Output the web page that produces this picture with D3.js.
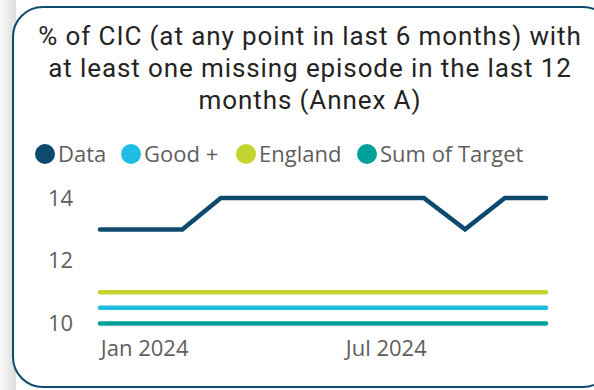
<!DOCTYPE html>
<html>
<head>
<meta charset="utf-8">
<script src="https://cdn.jsdelivr.net/npm/d3@7"></script>
<style>
  body { margin: 0; background: #fff; }
  svg { display: block; }
</style>
</head>
<body>
<div id="chart"></div>
<script>
// monthly values, Dec 2023 .. Nov 2024
var months = ["2023-12-01","2024-01-01","2024-02-01","2024-03-01","2024-04-01","2024-05-01",
              "2024-06-01","2024-07-01","2024-08-01","2024-09-01","2024-10-01","2024-11-01"];
var dataVals = [13, 13, 13, 14, 14, 14, 14, 14, 14, 13, 14, 14];
var goodVals = [10.5, 10.5, 10.5, 10.5, 10.5, 10.5, 10.5, 10.5, 10.5, 10.5, 10.5, 10.5];
var englandVals = [11, 11, 11, 11, 11, 11, 11, 11, 11, 11, 11, 11];
var targetVals = [10, 10, 10, 10, 10, 10, 10, 10, 10, 10, 10, 10];
var yTicks = [10, 12, 14];
var xTicks = ["2024-01-01", "2024-07-01"];
var titleLines = ["% of CIC (at any point in last 6 months) with",
                  "at least one missing episode in the last 12",
                  "months (Annex A)"];

var seriesNames = ["Data", "Good +", "England", "Sum of Target"];
var seriesColors = ["#0d4a6e", "#1fbde2", "#c5d52f", "#00a09a"];
var seriesVals = [dataVals, goodVals, englandVals, targetVals];

var W = 594, H = 390;
var parse = d3.timeParse("%Y-%m-%d");
var fmt = d3.timeFormat("%b %Y");
var labelFont = "'Open Sans', sans-serif";

var svg = d3.select("#chart").append("svg")
  .attr("width", W).attr("height", H);

// left shadow
var defs = svg.append("defs");
var grad = defs.append("linearGradient").attr("id", "shadow")
  .attr("x1", 0).attr("x2", 1);
grad.append("stop").attr("offset", "0%").attr("stop-color", "#fafafa");
grad.append("stop").attr("offset", "100%").attr("stop-color", "#dcdcdc");
svg.append("rect").attr("x", 0).attr("y", 0).attr("width", 16).attr("height", H)
  .attr("fill", "url(#shadow)");

// card
svg.append("rect")
  .attr("x", 13).attr("y", 7)
  .attr("width", 600).attr("height", 380)
  .attr("rx", 30).attr("ry", 30)
  .attr("fill", "#fff")
  .attr("stroke", "#0d4a6e")
  .attr("stroke-width", 2);

// title
svg.append("g").selectAll("text")
  .data(titleLines)
  .enter().append("text")
  .attr("x", 310)
  .attr("y", (d, i) => 45 + i * 32)
  .attr("text-anchor", "middle")
  .attr("font-family", "Roboto, 'DejaVu Sans Condensed', sans-serif")
  .attr("font-size", 26)
  .attr("letter-spacing", 0.9)
  .attr("fill", "#252423")
  .text(d => d);

// legend
var legendX = [45, 131, 246, 367];
var legend = svg.append("g").selectAll("g")
  .data(seriesNames)
  .enter().append("g")
  .attr("transform", (d, i) => "translate(" + legendX[i] + ",154)");
legend.append("circle").attr("r", 10).attr("fill", (d, i) => seriesColors[i]);
legend.append("text")
  .attr("x", 13).attr("y", 8)
  .attr("font-family", labelFont)
  .attr("font-size", 22)
  .attr("fill", "#605e5c")
  .text(d => d);

// scales
var x = d3.scaleTime()
  .domain(d3.extent(months, parse))
  .range([100, 546]);
var y = d3.scaleLinear()
  .domain([10, 14])
  .range([323.5, 198]);

// axes
var yAxis = svg.append("g")
  .attr("transform", "translate(90,0)")
  .call(d3.axisLeft(y).tickValues(yTicks).tickFormat(d3.format("d")).tickSize(0).tickPadding(0));
yAxis.select(".domain").remove();
yAxis.selectAll("text")
  .attr("font-family", labelFont)
  .attr("font-size", 22)
  .attr("fill", "#605e5c")
  .attr("text-anchor", "start")
  .attr("x", -42);

var xAxis = svg.append("g")
  .attr("transform", "translate(3,340)")
  .call(d3.axisBottom(x).tickValues(xTicks.map(parse)).tickFormat(fmt).tickSize(0).tickPadding(0));
xAxis.select(".domain").remove();
xAxis.selectAll("text")
  .attr("font-family", labelFont)
  .attr("font-size", 22)
  .attr("fill", "#605e5c");

// lines
var line = d3.line()
  .x((d, i) => x(parse(months[i])))
  .y(d => y(d));

svg.append("g").selectAll("path")
  .data(seriesVals.slice().reverse())
  .enter().append("path")
  .attr("d", d => line(d))
  .attr("fill", "none")
  .attr("stroke", (d, i) => seriesColors[seriesVals.length - 1 - i])
  .attr("stroke-width", 4.5)
  .attr("stroke-linecap", "round")
  .attr("stroke-linejoin", "miter");
</script>
</body>
</html>
